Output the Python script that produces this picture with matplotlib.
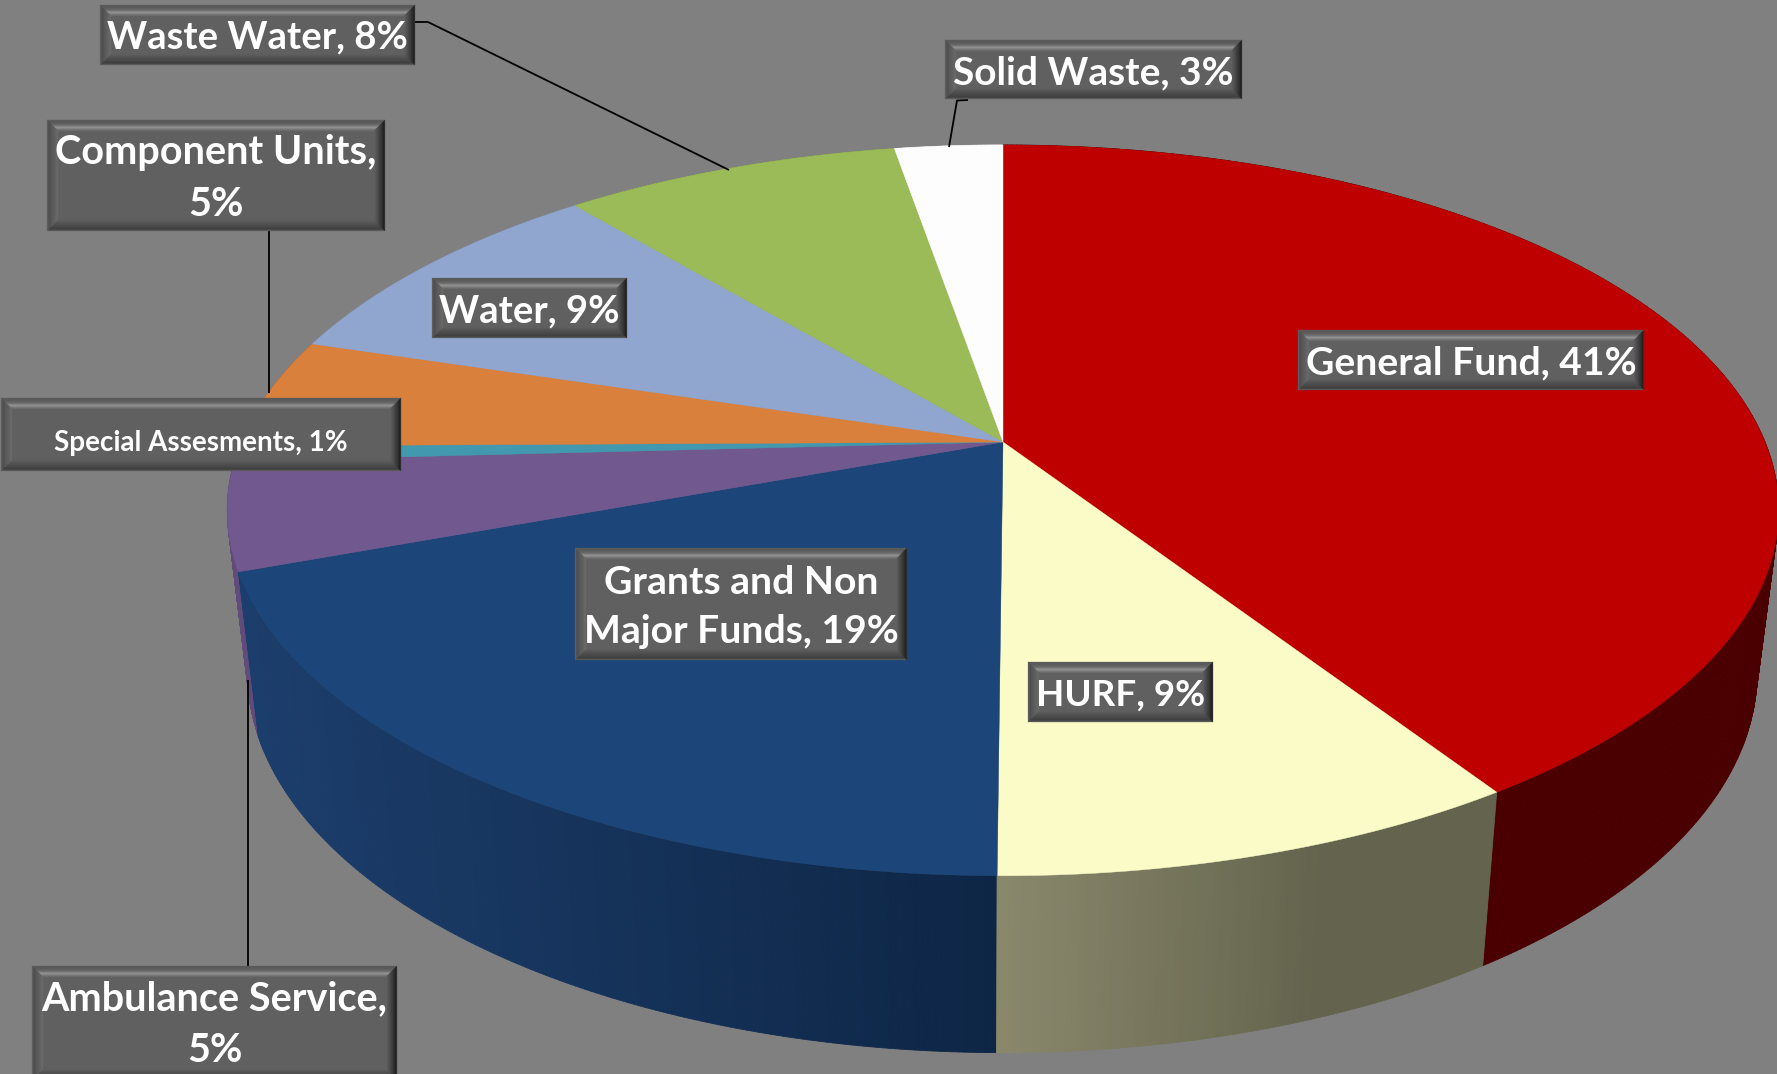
import numpy as np
import matplotlib
matplotlib.use("Agg")
import matplotlib.pyplot as plt
from matplotlib.collections import PolyCollection

# ---- data ----
categories = ["General Fund", "HURF", "Grants and Non Major Funds", "Ambulance Service",
              "Special Assesments", "Component Units", "Water", "Waste Water", "Solid Waste"]
shares = [40.8, 9.3, 19.3, 4.75, 0.67, 4.92, 9.16, 8.4, 2.7]
label_pct = ["41%", "9%", "19%", "5%", "1%", "5%", "9%", "8%", "3%"]
top_colors = ["#BE0000", "#FBFBC8", "#1C4679", "#71588F", "#4198AF",
              "#D9803C", "#91A6CF", "#9BBB59", "#FDFDFD"]

plt.rcParams['font.family'] = ['Lato', 'DejaVu Sans']
BG = "#808080"
fig = plt.figure(figsize=(17.77, 10.74), dpi=100, facecolor=BG)
ax = fig.add_axes([0, 0, 1, 1])
ax.set_xlim(0, 1777)
ax.set_ylim(1074, 0)
ax.axis("off")

# perspective projection of the pie's unit circle
X0, Y0, A, B, C = 1003.0, 442.0, 762.0, -269.9, 0.1871
WX0, WY0, KX, KY = 1002.3, 601.5, 0.973, 1.04


def top_pt(phi):
    s, c = np.cos(phi), np.sin(phi)
    d = 1 + C * s
    return X0 + A * c / d, (Y0 + B * s) / d


def low_pt(phi):
    x, y = top_pt(phi)
    return WX0 + KX * (x - X0), WY0 + KY * (y - Y0)


def wall_color(i, x):
    if i == 1:
        f = np.clip((x - 993) / (1320 - 993), 0, 1)
        return tuple(np.array([139, 137, 108]) * (1 - f) / 255 + np.array([100, 100, 78]) * f / 255)
    if i == 2:
        f = np.clip((x - 240) / (993 - 240), 0, 1)
        return tuple(np.array([28, 62, 108]) * (1 - f) / 255 + np.array([14, 38, 70]) * f / 255)
    if i == 0:
        return (74 / 255, 0, 0)
    rgb = np.array(matplotlib.colors.to_rgb(top_colors[i]))
    return tuple(rgb * 0.85)


edges = np.concatenate([[0], np.cumsum(shares)]) / np.sum(shares) * 2 * np.pi

# side wall, far strips first
strips = []
for i in range(len(shares)):
    phis = np.arange(edges[i], edges[i + 1], np.radians(0.4))
    phis = np.append(phis, edges[i + 1])
    for a, b in zip(phis[:-1], phis[1:]):
        p1, p2 = top_pt(a), top_pt(b)
        q1, q2 = low_pt(a), low_pt(b)
        strips.append((np.cos((a + b) / 2), [p1, p2, q2, q1], wall_color(i, (p1[0] + p2[0]) / 2)))
strips.sort(key=lambda r: -r[0])
ax.add_collection(PolyCollection([r[1] for r in strips], facecolors=[r[2] for r in strips],
                                 edgecolors=[r[2] for r in strips], linewidths=0.6, zorder=1))

# top face
for i in range(len(shares)):
    phis = np.linspace(edges[i], edges[i + 1], 240)
    xs, ys = top_pt(phis)
    ax.fill(np.r_[X0, xs], np.r_[Y0, ys], color=top_colors[i], lw=0.3, zorder=2)

# leader lines
for lx, ly in [([415, 428, 729], [22, 22, 170]),
               ([269, 269], [231, 393]),
               ([248, 248], [680, 966]),
               ([968, 957, 949], [100, 100.5, 147])]:
    ax.plot(lx, ly, color="black", lw=1.3, zorder=3, solid_capstyle="butt")


def bevel_box(x0, y0, x1, y1, b=11):
    ax.add_patch(plt.Rectangle((x0, y0), x1 - x0, y1 - y0, fc="#606060", ec="none", zorder=5))
    ds = np.arange(0, b, 1.0)
    ramp = {
        "top": ([0, 2, 5, 7.5, 9, 11], [92, 88, 104, 146, 128, 98]),
        "bottom": ([0, 2, 4, 7, 11], [100, 62, 70, 80, 96]),
        "left": ([0, 2, 6, 11], [100, 78, 92, 106]),
        "right": ([0, 1, 3, 7, 11], [70, 28, 48, 74, 98]),
    }
    polys, cols = [], []
    for d in ds:
        ox0, oy0, ox1, oy1 = x0 + d, y0 + d, x1 - d, y1 - d
        ix0, iy0, ix1, iy1 = ox0 + 1, oy0 + 1, ox1 - 1, oy1 - 1
        sides = {
            "top": [(ox0, oy0), (ox1, oy0), (ix1, iy0), (ix0, iy0)],
            "bottom": [(ox0, oy1), (ox1, oy1), (ix1, iy1), (ix0, iy1)],
            "left": [(ox0, oy0), (ix0, iy0), (ix0, iy1), (ox0, oy1)],
            "right": [(ox1, oy0), (ix1, iy0), (ix1, iy1), (ox1, oy1)],
        }
        for k, poly in sides.items():
            g = np.interp(d + 0.5, *ramp[k]) / 255
            polys.append(poly)
            cols.append((g, g, g))
    ax.add_collection(PolyCollection(polys, facecolors=cols, edgecolors=cols, linewidths=0.2, zorder=5.1))


# label boxes: x0, y0, x1, y1, text layout, font size, text y offset
layout = {
    "General Fund": (1298, 330, 1644, 390, "{n}, {p}", 28.2, 3),
    "HURF": (1028, 662, 1213, 722, "{n}, {p}", 26.5, 3),
    "Grants and Non Major Funds": (575, 548, 907, 660, "Grants and Non\nMajor Funds, {p}", 28.2, 3),
    "Ambulance Service": (32, 966, 397, 1080, "{n},\n{p}", 28.5, 2),
    "Special Assesments": (1, 398, 401, 471, "{n}, {p}", 20, 8),
    "Component Units": (47, 120, 385, 231, "{n},\n{p}", 28.5, 3),
    "Water": (432, 278, 627, 338, "{n}, {p}", 27.5, 3),
    "Waste Water": (100, 5, 415, 65, "{n}, {p}", 27.5, 2),
    "Solid Waste": (945, 40, 1242, 99, "{n}, {p}", 28, 3),
}
for name, pct in zip(categories, label_pct):
    x0, y0, x1, y1, tmpl, fs, dy = layout[name]
    bevel_box(x0, y0, x1, y1)
    ax.text((x0 + x1) / 2, (y0 + y1) / 2 + dy, tmpl.format(n=name, p=pct), color="white",
            fontsize=fs, fontweight="bold", ha="center", va="center", zorder=6,
            linespacing=1.5, clip_on=True)

fig.savefig("out.png", dpi=100, facecolor=BG)
